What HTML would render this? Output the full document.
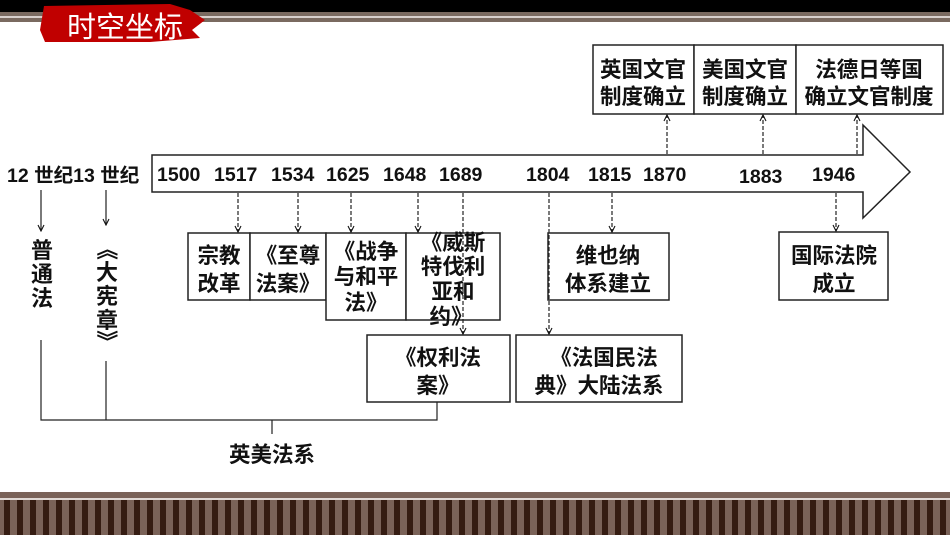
<!DOCTYPE html>
<html><head><meta charset="utf-8"><style>
html,body{margin:0;padding:0;background:#fff;}
svg{display:block;}
text{font-family:"Liberation Sans","Noto Sans CJK SC",sans-serif;font-weight:bold;fill:#111;}
</style></head><body>
<svg width="950" height="535" viewBox="0 0 950 535" xmlns="http://www.w3.org/2000/svg">
<defs>
<marker id="ah" markerWidth="8" markerHeight="8" refX="7" refY="4" orient="auto" markerUnits="userSpaceOnUse">
<path d="M1,1 L7,4 L1,7" fill="none" stroke="#111" stroke-width="1.1"/>
</marker>
<pattern id="st" width="13" height="40" patternUnits="userSpaceOnUse">
<rect width="13" height="40" fill="#7a6258"/>
<rect x="4" width="6" height="40" fill="#351c12"/>
</pattern>
</defs>
<rect x="0" y="0" width="950" height="12" fill="#000"/>
<rect x="0" y="12" width="950" height="4" fill="#7a6a60"/>
<rect x="0" y="16" width="950" height="2" fill="#d8d0cc"/>
<rect x="0" y="18" width="950" height="4" fill="#7a6a60"/>
<path d="M44,6 L170,4 L190,10 L205,20 L192,30 L200,38 L150,42 L45,42 L40,30 L42,18 Z" fill="#c00000"/>
<text x="67" y="37" font-size="29" style="fill:#fff;font-weight:normal">时空坐标</text>
<rect x="0" y="492" width="950" height="6" fill="#7a6258"/>
<rect x="0" y="498" width="950" height="2" fill="#e0d8d4"/>
<rect x="0" y="500" width="950" height="35" fill="url(#st)"/>
<path d="M152,155 L863,155 L863,125 L910,172 L863,218 L863,192 L152,192 Z" fill="#fff" stroke="#222" stroke-width="1.5"/>
<g font-size="19.5">
<text x="157" y="181">1500</text><text x="214" y="181">1517</text><text x="271" y="181">1534</text>
<text x="326" y="181">1625</text><text x="383" y="181">1648</text><text x="439" y="181">1689</text>
<text x="526" y="181">1804</text><text x="588" y="181">1815</text><text x="643" y="181">1870</text>
<text x="739" y="183">1883</text><text x="812" y="181">1946</text>
</g>
<text x="7" y="182" font-size="19.5">12 世纪13 世纪</text>
<g fill="#fff" stroke="#222" stroke-width="1.5">
<rect x="593" y="45" width="101" height="69"/><rect x="694" y="45" width="102" height="69"/><rect x="796" y="45" width="147" height="69"/>
<rect x="188" y="233" width="62" height="67"/><rect x="250" y="233" width="76" height="67"/>
<rect x="326" y="233" width="80" height="87"/><rect x="406" y="233" width="94" height="87"/>
<rect x="367" y="335" width="143" height="67"/><rect x="516" y="335" width="166" height="67"/>
<rect x="548" y="233" width="121" height="67"/><rect x="779" y="232" width="109" height="68"/>
</g>
<g font-size="21.5" text-anchor="middle">
<text x="643" y="77">英国文官</text><text x="643" y="104">制度确立</text>
<text x="745" y="77">美国文官</text><text x="745" y="104">制度确立</text>
<text x="869" y="77">法德日等国</text><text x="869" y="104">确立文官制度</text>
<text x="219" y="263">宗教</text><text x="219" y="291">改革</text>
<text x="288" y="263">《至尊</text><text x="288" y="291">法案》</text>
<text x="366" y="259">《战争</text><text x="366" y="284">与和平</text><text x="366" y="310">法》</text>
<text x="453" y="250">《威斯</text><text x="453" y="274">特伐利</text><text x="453" y="299">亚和</text><text x="451" y="324">约》</text>
<text x="438" y="365">《权利法</text><text x="438" y="393">案》</text>
<text x="604" y="365">《法国民法</text><text x="599" y="393">典》大陆法系</text>
<text x="608" y="263">维也纳</text><text x="608" y="291">体系建立</text>
<text x="834" y="263">国际法院</text><text x="834" y="291">成立</text>
<text x="272" y="462">英美法系</text>
</g>
<g font-size="22" text-anchor="middle">
<text x="42" y="258">普</text><text x="42" y="282">通</text><text x="42" y="306">法</text>
<text x="107" y="257" transform="rotate(90 107 249)">《</text>
<text x="107" y="280">大</text><text x="107" y="304">宪</text><text x="107" y="328">章</text>
<text x="107" y="349" transform="rotate(90 107 341)">》</text>
</g>
<g stroke="#222" stroke-width="1.2" stroke-dasharray="4,2" fill="none" marker-end="url(#ah)">
<line x1="667" y1="154" x2="667" y2="115"/><line x1="763" y1="154" x2="763" y2="115"/><line x1="857" y1="154" x2="857" y2="115"/>
<line x1="238" y1="193" x2="238" y2="232"/><line x1="298" y1="193" x2="298" y2="232"/>
<line x1="351" y1="193" x2="351" y2="232"/><line x1="418" y1="193" x2="418" y2="232"/>
<line x1="463" y1="193" x2="463" y2="334"/><line x1="549" y1="193" x2="549" y2="334"/>
<line x1="612" y1="193" x2="612" y2="232"/><line x1="836" y1="193" x2="836" y2="231"/>
</g>
<g stroke="#222" stroke-width="1.2" fill="none">
<line x1="41" y1="190" x2="41" y2="231" marker-end="url(#ah)"/>
<line x1="106" y1="190" x2="106" y2="225" marker-end="url(#ah)"/>
<polyline points="41,340 41,420 437,420 437,402"/>
<line x1="106" y1="361" x2="106" y2="420"/>
<line x1="272" y1="420" x2="272" y2="434"/>
</g>
</svg>
</body></html>
